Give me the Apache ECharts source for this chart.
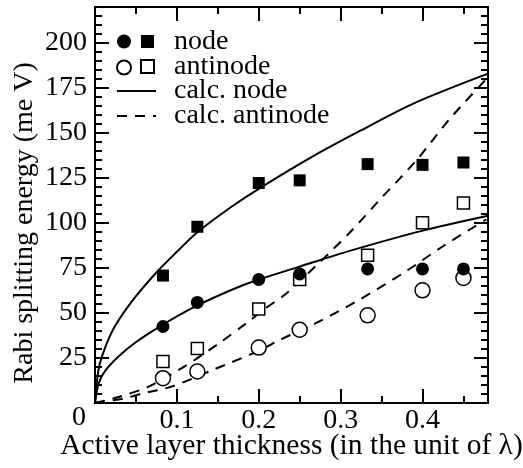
<!DOCTYPE html>
<html>
<head>
<meta charset="utf-8">
<script src="https://cdn.jsdelivr.net/npm/echarts/dist/echarts.min.js"></script>
<style>
  html, body { margin: 0; padding: 0; background: #fff; }
  #chart { width: 523px; height: 468px; }
</style>
</head>
<body>
<div id="chart"></div>
<script>
// measured points (thickness in units of lambda)
var thickness = [0.083, 0.125, 0.2, 0.25, 0.333, 0.4, 0.45];
var nodeSquare = [70.8, 97.9, 122.2, 123.7, 132.7, 132.3, 133.6];
var nodeCircle = [42.5, 55.9, 68.6, 71.7, 74.5, 74.5, 74.5];
var antiSquare = [23.0, 30.3, 52.2, 68.6, 82.1, 100.2, 111.1];
var antiCircle = [13.8, 17.5, 30.8, 40.7, 48.7, 62.6, 69.5];

// calculated curves
var calcNodeHiX = [0, 0.0045, 0.0126, 0.0248, 0.045, 0.075, 0.1, 0.124, 0.165, 0.2, 0.266, 0.323, 0.392, 0.48];
var calcNodeHiY = [0, 19, 31, 43, 56.5, 72.5, 84, 94.5, 108.5, 119, 137, 151, 167, 183];
var calcNodeLoX = [0, 0.0045, 0.0126, 0.029, 0.049, 0.081, 0.122, 0.165, 0.198, 0.248, 0.311, 0.398, 0.48];
var calcNodeLoY = [0, 11, 18, 26, 33.5, 43, 53.5, 62.5, 68.3, 75.5, 84.5, 95.5, 104];
var calcAntiHiX = [0, 0.03, 0.065, 0.11, 0.152, 0.185, 0.209, 0.234, 0.274, 0.311, 0.352, 0.392, 0.433, 0.478];
var calcAntiHiY = [0, 3.5, 9, 20.5, 33.3, 44.4, 52.8, 61, 78, 94.6, 115, 134.5, 157.7, 180];
var calcAntiLoX = [0, 0.035, 0.059, 0.0935, 0.144, 0.2, 0.226, 0.274, 0.323, 0.38, 0.425, 0.478];
var calcAntiLoY = [0, 2.5, 5.4, 9.1, 18.4, 29, 35.1, 45.3, 57.4, 73.2, 87.1, 102];

// tick labels
var xLabels = [0.1, 0.2, 0.3, 0.4];
var yLabels = [25, 50, 75, 100, 125, 150, 175, 200];

var font = "'Liberation Serif', 'DejaVu Serif', serif";
var black = '#000';

function pairs(xs, ys) {
  return xs.map(function(x, i) { return [x, ys[i]]; });
}

function axis(pos, max, step, tickLen) {
  return {
    type: 'value',
    position: pos,
    min: 0,
    max: max,
    interval: step,
    axisLine: { show: true, onZero: false, lineStyle: { color: black, width: 2 } },
    axisTick: { show: true, inside: true, length: tickLen, lineStyle: { color: black, width: 2 } },
    axisLabel: { show: false },
    splitLine: { show: false },
    minorTick: { show: false }
  };
}

var xMain = axis('bottom', 0.48, 0.1, 14);
xMain.axisLabel = {
  show: true, margin: 4, color: black, fontFamily: font, fontSize: 28,
  hideOverlap: false, showMinLabel: true, showMaxLabel: true,
  formatter: function(v) {
    return xLabels.indexOf(+(+v).toFixed(2)) >= 0 ? (+v).toFixed(1) : '';
  }
};
xMain.name = 'Active layer thickness (in the unit of \u03bb)';
xMain.nameLocation = 'middle';
xMain.nameGap = 28;
xMain.nameMoveOverlap = false;
xMain.nameTextStyle = { color: black, fontFamily: font, fontSize: 29.5 };

var yMain = axis('left', 220, 25, 14);
yMain.axisLabel = {
  show: true, margin: 8, color: black, fontFamily: font, fontSize: 28,
  hideOverlap: false,
  formatter: function(v) {
    return yLabels.indexOf(v) >= 0 ? String(v) : '';
  }
};
yMain.name = 'Rabi splitting energy (me V)';
yMain.nameLocation = 'middle';
yMain.nameGap = 56;
yMain.nameMoveOverlap = false;
yMain.nameTextStyle = { color: black, fontFamily: font, fontSize: 28, padding: [0, 36, 0, 0] };

function lineSeries(name, xs, ys, dashed) {
  return {
    name: name, type: 'line', data: pairs(xs, ys),
    showSymbol: false, symbol: 'none', smooth: 0.3, z: 2,
    itemStyle: { color: black },
    lineStyle: { color: black, width: 2, type: dashed ? [10, 8] : 'solid' },
    emphasis: { disabled: true }, silent: true
  };
}

function markSeries(name, ys, symbol, size, filled, z) {
  return {
    name: name, type: 'scatter', data: pairs(thickness, ys),
    symbol: symbol, symbolSize: size, z: z,
    itemStyle: filled ? { color: black, borderWidth: 0, opacity: 1 }
                      : { color: '#fff', borderColor: black, borderWidth: 1.5, opacity: 1 },
    emphasis: { disabled: true }, silent: true
  };
}

var legendText = { color: black, fontFamily: font, fontSize: 28 };

var chart = echarts.init(document.getElementById('chart'));
chart.setOption({
  animation: false,
  backgroundColor: '#fff',
  grid: { left: 95, right: 35, top: 7, bottom: 65, containLabel: false, outerBoundsMode: 'none' },
  xAxis: [xMain, axis('bottom', 0.48, 0.05, 7), axis('top', 0.48, 0.1, 14), axis('top', 0.48, 0.05, 7)],
  yAxis: [yMain, axis('left', 220, 5, 7), axis('right', 220, 25, 14), axis('right', 220, 5, 7)],
  legend: [
    {
      data: ['node circle', 'antinode circle'], orient: 'vertical',
      left: 116, top: 34.5, padding: 0, itemGap: 11, itemWidth: 14, itemHeight: 14,
      selectedMode: false, textStyle: legendText,
      formatter: function() { return ''; }
    },
    {
      data: ['node', 'antinode'], orient: 'vertical',
      left: 140, top: 27.5, padding: 0, itemGap: -3, itemWidth: 13, itemHeight: 13,
      selectedMode: false,
      textStyle: Object.assign({ padding: [0, 0, 0, 15] }, legendText)
    },
    {
      data: ['calc. node', 'calc. antinode'], orient: 'vertical',
      left: 116, top: 77, padding: 0, itemGap: -3, itemWidth: 39, itemHeight: 14,
      selectedMode: false, itemStyle: { opacity: 0 },
      textStyle: Object.assign({ padding: [0, 0, 0, 13] }, legendText)
    }
  ],
  graphic: [
    { type: 'text', left: 72, top: 404, silent: true,
      style: { text: '0', fill: black, font: '28px ' + font } }
  ],
  series: [
    lineSeries('calc. node', calcNodeHiX, calcNodeHiY, false),
    lineSeries('calc. node', calcNodeLoX, calcNodeLoY, false),
    lineSeries('calc. antinode', calcAntiHiX, calcAntiHiY, true),
    lineSeries('calc. antinode', calcAntiLoX, calcAntiLoY, true),
    markSeries('antinode', antiSquare, 'rect', 12, false, 3),
    markSeries('antinode circle', antiCircle, 'circle', 15, false, 3),
    markSeries('node', nodeSquare, 'rect', 12, true, 4),
    markSeries('node circle', nodeCircle, 'circle', 13, true, 4)
  ]
});
</script>
</body>
</html>
